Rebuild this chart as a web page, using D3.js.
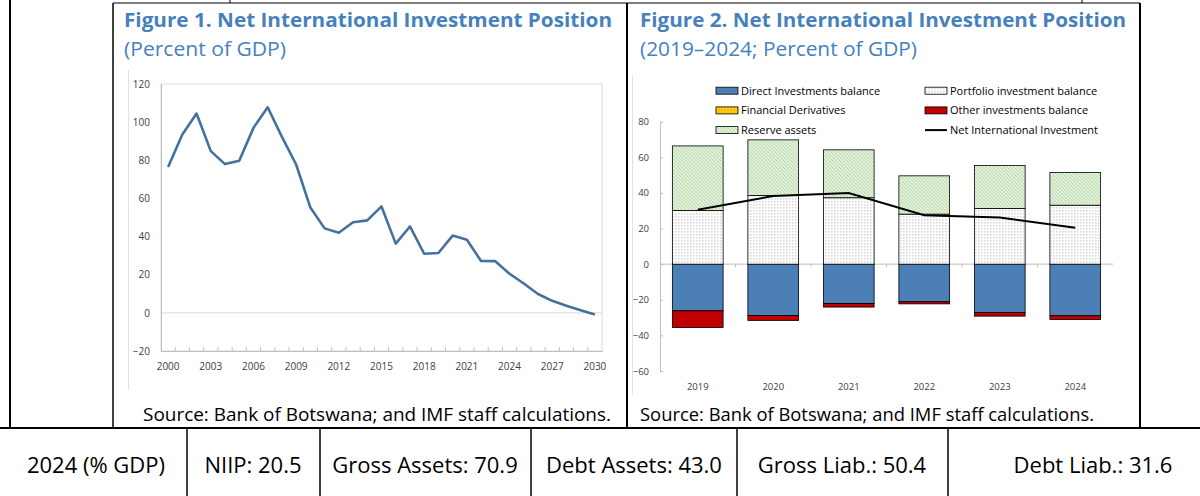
<!DOCTYPE html>
<html>
<head>
<meta charset="utf-8">
<script src="https://cdn.jsdelivr.net/npm/d3@7"></script>
<style>
  body { margin: 0; background: #fff; }
  text { font-family: "Open Sans", sans-serif; }
</style>
</head>
<body>
<div class="canvas"></div>
<script>
// ---- data: Figure 1 (NIIP, percent of GDP) ----
const years1 = [2000, 2001, 2002, 2003, 2004, 2005, 2006, 2007, 2008, 2009, 2010,
  2011, 2012, 2013, 2014, 2015, 2016, 2017, 2018, 2019, 2020,
  2021, 2022, 2023, 2024, 2025, 2026, 2027, 2028, 2029, 2030];
const niipLong = [76.5, 93.5, 104.5, 84.8, 78.0, 79.8, 97.0, 107.8, 92.3, 77.8, 55.2,
  44.3, 42.0, 47.5, 48.5, 55.8, 36.3, 45.3, 31.0, 31.4, 40.5,
  38.3, 27.2, 27.1, 20.5, 15.4, 9.9, 6.3, 3.7, 1.4, -0.8];
const xLabels1 = [2000, 2003, 2006, 2009, 2012, 2015, 2018, 2021, 2024, 2027, 2030];
const yTicks1 = [-20, 0, 20, 40, 60, 80, 100, 120];

// ---- data: Figure 2 (components, percent of GDP) ----
const years2 = [2019, 2020, 2021, 2022, 2023, 2024];
const direct = [-26.2, -28.8, -22.1, -21.1, -27.1, -29.0];
const portfolio = [30.1, 38.6, 37.3, 28.1, 31.3, 33.1];
const derivatives = [0, 0, 0, 0, 0, 0];
const other = [-9.4, -2.8, -2.0, -1.2, -2.1, -2.1];
const reserve = [36.3, 31.2, 26.9, 21.5, 24.1, 18.4];
const niip = [30.5, 38.3, 39.9, 27.5, 26.2, 20.5];
const yTicks2 = [-60, -40, -20, 0, 20, 40, 60, 80];

// ---- table row ----
const tableLabels = ['2024 (% GDP)', 'NIIP: 20.5', 'Gross Assets: 70.9', 'Debt Assets: 43.0',
  'Gross Liab.: 50.4', 'Debt Liab.: 31.6'];

const titleBlue = '#4681bd';

const svg = d3.select('.canvas')
  .append('svg')
  .attr('width', 1200)
  .attr('height', 496);

svg.append('rect').attr('width', 1200).attr('height', 496).attr('fill', '#fff');

// patterns for the stacked bars
const defs = svg.append('defs');
const dots = defs.append('pattern').attr('id', 'dots')
  .attr('width', 3).attr('height', 3).attr('patternUnits', 'userSpaceOnUse');
dots.append('rect').attr('width', 3).attr('height', 3).attr('fill', '#fff');
dots.append('rect').attr('x', 0.5).attr('y', 0.5).attr('width', 0.8).attr('height', 0.8).attr('fill', '#666');

const hatch = defs.append('pattern').attr('id', 'hatch')
  .attr('width', 3.5).attr('height', 3.5).attr('patternUnits', 'userSpaceOnUse');
hatch.append('rect').attr('width', 3.5).attr('height', 3.5).attr('fill', '#e6f3de');
hatch.append('path').attr('d', 'M0,0 L3.5,3.5 M-1,2.5 L1,4.5 M2.5,-1 L4.5,1')
  .attr('stroke', '#86b874').attr('stroke-width', 0.6);

const gold = defs.append('pattern').attr('id', 'gold')
  .attr('width', 3).attr('height', 3).attr('patternUnits', 'userSpaceOnUse');
gold.append('rect').attr('width', 3).attr('height', 3).attr('fill', '#ffc000');
gold.append('rect').attr('x', 1).attr('y', 1).attr('width', 1).attr('height', 1).attr('fill', '#ffe680');

// ---- page frame (document table borders) ----
const frame = svg.append('g').attr('stroke', '#000').attr('fill', 'none');
const frameLines = [
  [10, 0, 10, 428, 2], [0, 428, 1200, 428, 2],
  [113, 3, 1140, 3, 1.2], [113, 3, 113, 428, 1.5], [627, 3, 627, 428, 2], [1140, 3, 1140, 428, 2],
  [230, 0, 230, 3, 1], [1082, 0, 1082, 3, 1],
  [187, 428, 187, 496, 1.5], [320, 428, 320, 496, 1.5], [531, 428, 531, 496, 1.5],
  [737, 428, 737, 496, 1.5], [948, 428, 948, 496, 1.5]
];
frameLines.forEach(l => {
  frame.append('line').attr('x1', l[0]).attr('y1', l[1]).attr('x2', l[2]).attr('y2', l[3])
    .attr('stroke-width', l[4]);
});
// faint edges of the pasted chart images
svg.append('line').attr('x1', 128.5).attr('x2', 128.5).attr('y1', 70).attr('y2', 390).attr('stroke', '#e2e2e2');
svg.append('line').attr('x1', 632.5).attr('x2', 632.5).attr('y1', 75).attr('y2', 395).attr('stroke', '#e2e2e2');

// titles
const addText = (txt, x, y, size, weight, color, len) => {
  const t = svg.append('text').text(txt)
    .attr('x', x).attr('y', y)
    .attr('font-size', size).attr('font-weight', weight).attr('fill', color);
  if (len) t.attr('textLength', len).attr('lengthAdjust', 'spacingAndGlyphs');
  return t;
};
addText('Figure 1. Net International Investment Position', 124, 27, 19.5, 700, titleBlue, 488);
addText('(Percent of GDP)', 124, 56, 19.5, 400, titleBlue, 162);
addText('Figure 2. Net International Investment Position', 640, 27, 19.5, 700, titleBlue, 486);
addText('(2019\u20132024; Percent of GDP)', 640, 56, 19.5, 400, titleBlue, 277);
addText('Source: Bank of Botswana; and IMF staff calculations.', 143, 421, 17.5, 400, '#000', 468);
addText('Source: Bank of Botswana; and IMF staff calculations.', 640, 421, 17.5, 400, '#000', 454);

// ---------------- Figure 1 ----------------
const x1 = d3.scaleBand().domain(years1).range([161, 602]);
const y1 = d3.scaleLinear().domain([-20, 120]).range([351, 84]);
const g1 = svg.append('g');

g1.append('rect')
  .attr('x', 161).attr('y', y1(120))
  .attr('width', 441).attr('height', y1(-20) - y1(120))
  .attr('fill', 'none').attr('stroke', '#d9d9d9');

g1.append('line')
  .attr('x1', 161).attr('x2', 602)
  .attr('y1', y1(0)).attr('y2', y1(0))
  .attr('stroke', '#d9d9d9');

const xAxis1 = g1.append('g')
  .attr('transform', `translate(0, ${y1(-20)})`)
  .call(d3.axisBottom(x1).tickValues(xLabels1).tickSize(0).tickPadding(12));
xAxis1.select('.domain').attr('stroke', '#bfbfbf');
xAxis1.selectAll('text').attr('font-size', 10).attr('fill', '#404040').attr('font-family', '"Open Sans", sans-serif');

// small ticks on category boundaries
g1.selectAll('.bt')
  .data(years1.slice(1))
  .enter().append('line')
  .attr('x1', d => x1(d)).attr('x2', d => x1(d))
  .attr('y1', y1(-20)).attr('y2', y1(-20) - 4)
  .attr('stroke', '#bfbfbf');

const yAxis1 = g1.append('g')
  .attr('transform', 'translate(161, 0)')
  .call(d3.axisLeft(y1).tickValues(yTicks1).tickSize(0).tickPadding(11));
yAxis1.select('.domain').attr('stroke', '#bfbfbf');
yAxis1.selectAll('text').attr('font-size', 10).attr('fill', '#404040').attr('font-family', '"Open Sans", sans-serif');

const line1 = d3.line()
  .x((d, i) => x1(years1[i]) + x1.bandwidth() / 2)
  .y(d => y1(d));

g1.append('path')
  .datum(niipLong)
  .attr('d', line1)
  .attr('fill', 'none')
  .attr('stroke', '#4472a0')
  .attr('stroke-width', 2.6)
  .attr('stroke-linejoin', 'round');

// ---------------- Figure 2 ----------------
const x2 = d3.scaleBand().domain(years2).range([660, 1113]).paddingInner(0.328).paddingOuter(0.164);
const y2 = d3.scaleLinear().domain([-60, 80]).range([371, 121.7]);
const g2 = svg.append('g');

const keys = ['direct', 'portfolio', 'derivatives', 'other', 'reserve'];
const fills = {
  direct: '#4b7fb6',
  portfolio: 'url(#dots)',
  derivatives: 'url(#gold)',
  other: '#c00000',
  reserve: 'url(#hatch)'
};
const table = years2.map((yr, i) => ({
  year: yr,
  direct: direct[i],
  portfolio: portfolio[i],
  derivatives: derivatives[i],
  other: other[i],
  reserve: reserve[i]
}));
const series = d3.stack().keys(keys).offset(d3.stackOffsetDiverging)(table);

// axes
const yAxis2 = g2.append('g')
  .attr('transform', 'translate(660, 0)')
  .call(d3.axisLeft(y2).tickValues(yTicks2).tickSizeInner(-3).tickSizeOuter(0).tickPadding(11));
yAxis2.select('.domain').attr('stroke', '#bfbfbf');
yAxis2.selectAll('line').attr('stroke', '#bfbfbf');
yAxis2.selectAll('text').attr('font-size', 9.5).attr('fill', '#404040').attr('font-family', '"Open Sans", sans-serif');

g2.append('line')
  .attr('x1', 660).attr('x2', 1113)
  .attr('y1', y2(0)).attr('y2', y2(0))
  .attr('stroke', '#bfbfbf');

const slotStart = d => x2(d) - x2.step() * x2.paddingInner() / 2;
g2.selectAll('.bt')
  .data(years2.slice(1))
  .enter().append('line')
  .attr('x1', d => slotStart(d)).attr('x2', d => slotStart(d))
  .attr('y1', y2(0)).attr('y2', y2(0) + 3)
  .attr('stroke', '#bfbfbf');

const xAxis2 = g2.append('g')
  .attr('transform', `translate(0, ${y2(-60)})`)
  .call(d3.axisBottom(x2).tickSize(0).tickPadding(12));
xAxis2.select('.domain').remove();
xAxis2.selectAll('text').attr('font-size', 9.5).attr('fill', '#404040').attr('font-family', '"Open Sans", sans-serif');

// bars
g2.selectAll('.layer')
  .data(series)
  .enter().append('g')
  .attr('class', 'layer')
  .attr('fill', d => fills[d.key])
  .selectAll('rect')
  .data(d => d.filter(p => p[1] !== p[0]))
  .enter().append('rect')
  .attr('x', d => x2(d.data.year))
  .attr('width', x2.bandwidth())
  .attr('y', d => y2(Math.max(d[0], d[1])))
  .attr('height', d => Math.abs(y2(d[0]) - y2(d[1])))
  .attr('stroke', '#000')
  .attr('stroke-width', 0.8);

// NIIP line
const line2 = d3.line()
  .x((d, i) => x2(years2[i]) + x2.bandwidth() / 2)
  .y(d => y2(d));
g2.append('path')
  .datum(niip)
  .attr('d', line2)
  .attr('fill', 'none')
  .attr('stroke', '#000')
  .attr('stroke-width', 2);

// legend
const legendItems = [
  { label: 'Direct Investments balance', fill: fills.direct, col: 0, row: 0 },
  { label: 'Portfolio investment balance', fill: fills.portfolio, col: 1, row: 0 },
  { label: 'Financial Derivatives', fill: fills.derivatives, col: 0, row: 1 },
  { label: 'Other investments balance', fill: fills.other, col: 1, row: 1 },
  { label: 'Reserve assets', fill: fills.reserve, col: 0, row: 2 },
  { label: 'Net International Investment', line: true, col: 1, row: 2 }
];
const legend = g2.selectAll('.legend')
  .data(legendItems)
  .enter().append('g')
  .attr('transform', d => `translate(${d.col ? 925 : 716}, ${90.7 + d.row * 19.7})`);

legend.filter(d => !d.line).append('rect')
  .attr('x', 0).attr('y', -3.5).attr('width', 22).attr('height', 7)
  .attr('fill', d => d.fill).attr('stroke', '#000').attr('stroke-width', 0.8);
legend.filter(d => d.line).append('line')
  .attr('x1', 0).attr('x2', 22).attr('y1', 0).attr('y2', 0)
  .attr('stroke', '#000').attr('stroke-width', 2);
legend.append('text')
  .text(d => d.label)
  .attr('x', 25).attr('dy', '0.35em')
  .attr('font-size', 11).attr('fill', '#000');

// ---------------- bottom table ----------------
const cellCenters = [96, 253, 425, 634, 842, 1093];
svg.selectAll('.cell')
  .data(tableLabels)
  .enter().append('text')
  .text(d => d)
  .attr('x', (d, i) => cellCenters[i])
  .attr('y', 473)
  .attr('text-anchor', 'middle')
  .attr('font-size', 22)
  .attr('fill', '#000');
</script>
</body>
</html>
